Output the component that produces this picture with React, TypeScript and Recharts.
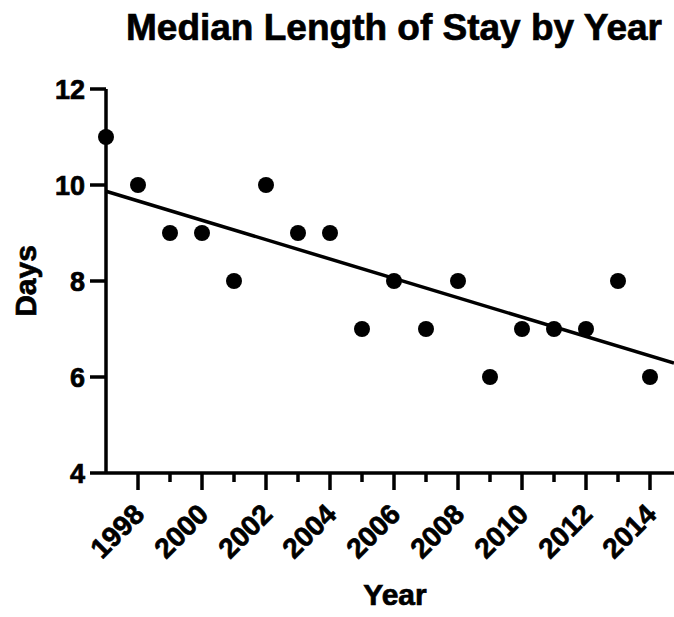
import { ComposedChart, Scatter, Line, XAxis, YAxis, Label } from "recharts";

// median length of stay (days) per year
const years = [1997, 1998, 1999, 2000, 2001, 2002, 2003, 2004, 2005, 2006, 2007, 2008, 2009, 2010, 2011, 2012, 2013, 2014];
const medianDays = [11, 10, 9, 9, 8, 10, 9, 9, 7, 8, 7, 8, 6, 7, 7, 7, 8, 6];

// linear fit at both ends of the x range
const fitYears = [1997, 2014.75];
const fitDays = [9.87, 6.29];

const xTicks = [1998, 1999, 2000, 2001, 2002, 2003, 2004, 2005, 2006, 2007, 2008, 2009, 2010, 2011, 2012, 2013, 2014];
const yTicks = [4, 6, 8, 10, 12];

const points = years.map((year, i) => ({ year, days: medianDays[i] }));
const fit = fitYears.map((year, i) => ({ year, days: fitDays[i] }));

const FONT = "'Liberation Sans', Arial, Helvetica, sans-serif";
const heavy = { fontFamily: FONT, fontWeight: "bold", fill: "#000", stroke: "#000", strokeWidth: 0.7 } as const;

const YearTick = (props: any) => {
  const { x, y, payload } = props;
  const major = payload.value % 2 === 0;
  return (
    <g>
      <line x1={x} y1={y} x2={x} y2={y + (major ? 17 : 9)} stroke="#000" strokeWidth={3.5} />
      {major && (
        <text
          x={x + 8}
          y={y + 43}
          transform={`rotate(-45, ${x + 8}, ${y + 43})`}
          textAnchor="end"
          fontSize={28}
          {...heavy}
        >
          {payload.value}
        </text>
      )}
    </g>
  );
};

const DaysTick = (props: any) => {
  const { x, y, payload } = props;
  return (
    <text x={x} y={y} dy={10} textAnchor="end" fontSize={27} {...heavy}>
      {payload.value}
    </text>
  );
};

export default function App() {
  return (
    <div style={{ position: "absolute", left: 0, top: 0, background: "#fff" }}>
      <ComposedChart width={674} height={617} margin={{ top: 89, right: 0, bottom: 0, left: 0 }}>
        <XAxis
          type="number"
          dataKey="year"
          domain={[1997, 2014.75]}
          ticks={xTicks}
          interval={0}
          height={144}
          tickSize={0}
          tickMargin={0}
          tickLine={false}
          axisLine={{ stroke: "#000", strokeWidth: 3.5 }}
          tick={<YearTick />}
        >
          <Label
            content={() => (
              <text x={395} y={605} textAnchor="middle" fontSize={30} {...heavy}>
                Year
              </text>
            )}
          />
        </XAxis>
        <YAxis
          type="number"
          dataKey="days"
          domain={[4, 12]}
          ticks={yTicks}
          interval={0}
          width={106}
          tickSize={16}
          tickMargin={5}
          tickLine={{ stroke: "#000", strokeWidth: 3.5 }}
          axisLine={{ stroke: "#000", strokeWidth: 3.5 }}
          tick={<DaysTick />}
        >
          <Label
            content={() => (
              <g>
                <text x={36} y={281} transform="rotate(-90, 36, 281)" textAnchor="middle" fontSize={30} {...heavy}>
                  Days
                </text>
                <text x={394} y={40} textAnchor="middle" fontSize={37} {...heavy}>
                  Median Length of Stay by Year
                </text>
              </g>
            )}
          />
        </YAxis>
        <Line
          data={fit}
          dataKey="days"
          type="linear"
          stroke="#000"
          strokeWidth={3.5}
          dot={false}
          activeDot={false}
          isAnimationActive={false}
        />
        <Scatter
          data={points}
          dataKey="days"
          fill="#000"
          isAnimationActive={false}
          shape={(p: any) => <circle cx={p.cx} cy={p.cy} r={8} fill="#000" />}
        />
      </ComposedChart>
    </div>
  );
}
